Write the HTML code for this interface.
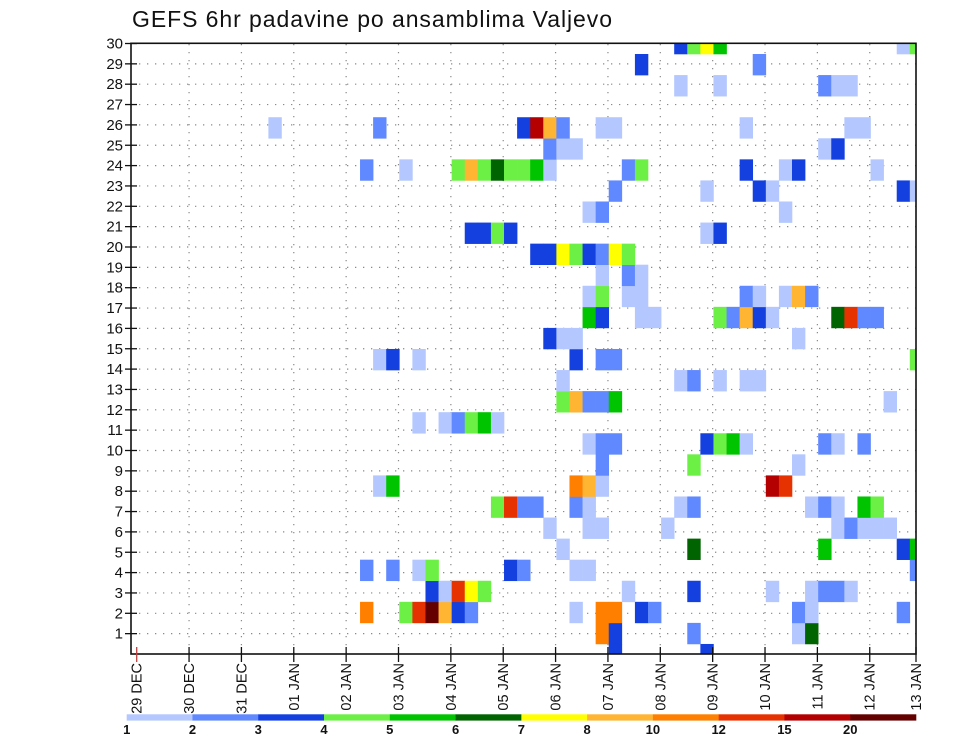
<!DOCTYPE html>
<html><head><meta charset="utf-8"><style>
html,body{margin:0;padding:0;background:#fff;}
svg{display:block;font-family:"Liberation Sans",sans-serif;}
</style></head><body>
<svg id="chart" width="960" height="742" viewBox="0 0 960 742" xmlns="http://www.w3.org/2000/svg">
<rect width="960" height="742" fill="#fff"/>
<text x="132" y="27" font-size="23" fill="#111" textLength="480" lengthAdjust="spacing">GEFS 6hr padavine po ansamblima Valjevo</text>
<defs><clipPath id="plotclip"><rect x="131" y="43.3" width="785" height="610.7"/></clipPath></defs>
<g id="grid"></g>
<g id="cells" clip-path="url(#plotclip)"></g>
<rect x="131" y="43.3" width="785" height="610.7" fill="none" stroke="#111" stroke-width="1.6"/>
<g id="yaxis"></g>
<g id="xaxis"></g>
<g id="cbar"></g>
</svg>
<script>
// ---- data ----
const dayLabels = ["29 DEC","30 DEC","31 DEC","01 JAN","02 JAN","03 JAN","04 JAN","05 JAN","06 JAN","07 JAN","08 JAN","09 JAN","10 JAN","11 JAN","12 JAN","13 JAN"];
const memberLabels = [1,2,3,4,5,6,7,8,9,10,11,12,13,14,15,16,17,18,19,20,21,22,23,24,25,26,27,28,29,30];
const levels = [1,2,3,4,5,6,7,8,10,12,15,20];
const levelColors = ["#b4c8ff","#6088ff","#1440e0","#6cf046","#00c400","#006400","#ffff00","#ffb432","#ff8000","#e63200","#b40000","#640000"];
// cells: time step index (6hr from 29 DEC 00Z), member row, precipitation value
const cellT = [];
const cellM = [];
const cellV = [];
const L=1.5,M=2.5,D=3.5,g=4.5,G=5.5,K=6.5,Y=7.5,o=9,O=11,R=13.5,X=17,Z=22;
const rowsData = {
29:[[41,D],[42,g],[43,Y],[44,G],[58,L],[59,g]],
28:[[38,D],[47,M]],
27:[[41,L],[44,L],[52,M],[53,L],[54,L]],
25:[[10,L],[18,M],[29,D],[30,X],[31,o],[32,M],[35,L],[36,L],[46,L],[54,L],[55,L]],
24:[[31,M],[32,L],[33,L],[52,L],[53,D]],
23:[[17,M],[20,L],[24,g],[25,o],[26,g],[27,K],[28,g],[29,g],[30,G],[31,L],[37,M],[38,g],[46,D],[49,L],[50,D],[56,L]],
22:[[36,M],[43,L],[47,D],[48,L],[58,D],[59,L]],
21:[[34,L],[35,M],[49,L]],
20:[[25,D],[26,D],[27,g],[28,D],[43,L],[44,D]],
19:[[30,D],[31,D],[32,Y],[33,g],[34,D],[35,M],[36,Y],[37,g]],
18:[[35,L],[37,M],[38,L]],
17:[[34,L],[35,g],[37,L],[38,L],[46,M],[47,L],[49,L],[50,o],[51,M]],
16:[[34,G],[35,D],[38,L],[39,L],[44,g],[45,M],[46,o],[47,D],[48,L],[53,K],[54,R],[55,M],[56,M]],
15:[[31,D],[32,L],[33,L],[50,L]],
14:[[18,L],[19,D],[21,L],[33,D],[35,M],[36,M],[59,g]],
13:[[32,L],[41,L],[42,M],[44,L],[46,L],[47,L]],
12:[[32,g],[33,o],[34,M],[35,M],[36,G],[57,L]],
11:[[21,L],[23,L],[24,M],[25,g],[26,G],[27,L]],
10:[[34,L],[35,M],[36,M],[43,D],[44,g],[45,G],[46,L],[52,M],[53,L],[55,M]],
9:[[35,M],[42,g],[50,L]],
8:[[18,L],[19,G],[33,O],[34,o],[35,L],[48,X],[49,R]],
7:[[27,g],[28,R],[29,M],[30,M],[33,M],[34,L],[41,L],[42,M],[51,L],[52,M],[53,L],[55,G],[56,g]],
6:[[31,L],[34,L],[35,L],[40,L],[53,L],[54,M],[55,L],[56,L],[57,L]],
5:[[32,L],[42,K],[52,G],[58,D],[59,G]],
4:[[17,M],[19,M],[21,L],[22,g],[28,D],[29,M],[33,L],[34,L],[59,M]],
3:[[22,D],[23,L],[24,R],[25,Y],[26,g],[37,L],[42,D],[48,L],[51,L],[52,M],[53,M],[54,L]],
2:[[17,O],[20,g],[21,R],[22,Z],[23,o],[24,D],[25,M],[33,L],[35,O],[36,O],[38,D],[39,M],[50,M],[51,L],[58,M]],
1:[[35,O],[36,D],[42,M],[50,L],[51,K]],
0:[[36,D],[43,D]]
};
for (const r in rowsData) { for (const c of rowsData[r]) { cellT.push(c[0]); cellM.push(+r); cellV.push(c[1]); } }

// ---- scales ----
const NS="http://www.w3.org/2000/svg";
const xStep=13.09, x0=137.5;
function xScale(t){ return x0 + t*xStep; }
const yStep=21.07;
function yScale(r){ return 654.5 - r*yStep; }
function yLabelPos(k){ return 654 - k*20.35; }
function colorFor(v){ let i=0; for(let j=0;j<levels.length;j++){ if(v>=levels[j]) i=j; } return levelColors[i]; }
function mk(tag, attrs, parent){ const e=document.createElementNS(NS,tag); for(const k in attrs) e.setAttribute(k,attrs[k]); parent.appendChild(e); return e; }

const grid=document.getElementById('grid');
for(let k=1;k<30;k++){
  const y=yLabelPos(k);
  const l=mk('line',{x1:131,x2:916,y1:y,y2:y,stroke:'#8a8a8a','stroke-width':1.2,'stroke-dasharray':'1.3 6.7'},grid);
  
  
}
for(let d=1;d<dayLabels.length-1;d++){
  const x=xScale(d*4)-0.8;
  const l=mk('line',{x1:x,x2:x,y1:44,y2:654,stroke:'#8a8a8a','stroke-width':1.2,'stroke-dasharray':'1.3 6.7'},grid);
  
  
}

const cells=document.getElementById('cells');
for(let i=0;i<cellT.length;i++){
  const x=xScale(cellT[i]), y=yScale(cellM[i])-yStep/2;
  const c=mk('rect',{x:x.toFixed(2),y:y.toFixed(2),width:xStep+0.3,height:yStep+0.3,fill:colorFor(cellV[i])},cells);
  
  
}

const yax=document.getElementById('yaxis');
for(const k of memberLabels){
  const y=yLabelPos(k);
  const t=mk('line',{x1:125,x2:137,y1:y,y2:y,stroke:'#111','stroke-width':1.3},yax);
  
  
  const tx=mk('text',{x:123,y:y+5,'font-size':15,'text-anchor':'end',fill:'#111'},yax);
  tx.textContent=k;
  
  
}

const xax=document.getElementById('xaxis');
for(let d=0;d<dayLabels.length;d++){
  let x=xScale(d*4)-0.8; if(x>916) x=916;
  const t=mk('line',{x1:x,x2:x,y1:647,y2:662,stroke: d===0?'#c04040':'#111','stroke-width':1.3},xax);
  
  
  const tx=mk('text',{x:0,y:0,'font-size':14.5,'text-anchor':'end',fill:'#111',transform:`translate(${x+5},663) rotate(-90)`},xax);
  tx.textContent=dayLabels[d];
  
  
}

const cb=document.getElementById('cbar');
const cbX0=126.7, cbW=(916-126.7)/levelColors.length;
for(let i=0;i<levelColors.length;i++){
  const r=mk('rect',{x:cbX0+i*cbW,y:714.3,width:cbW+0.3,height:6.3,fill:levelColors[i]},cb);
  
  
  const tx=mk('text',{x:cbX0+i*cbW,y:734,'font-size':13,'font-weight':'bold','text-anchor':'middle',fill:'#111'},cb);
  tx.textContent=levels[i];
  
  
}
</script>
</body></html>
